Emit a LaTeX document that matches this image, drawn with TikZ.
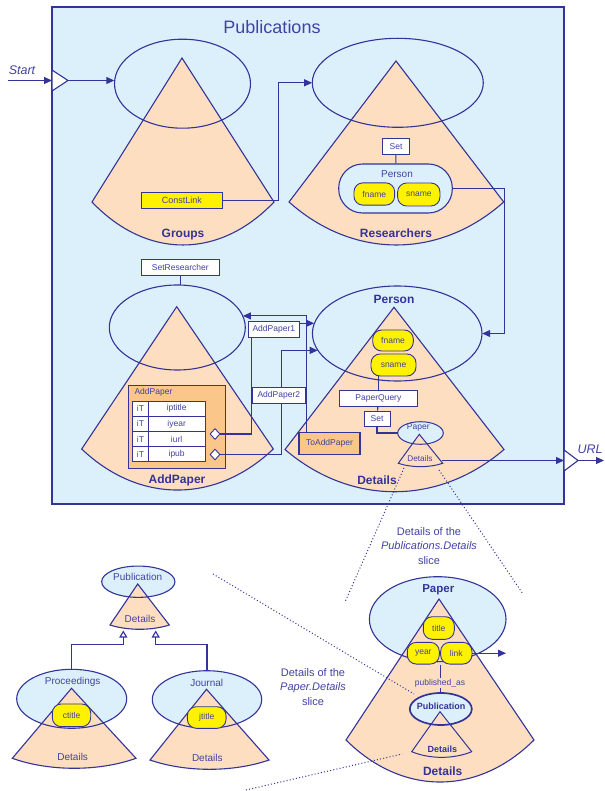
\documentclass[tikz,border=0pt]{standalone}
\usepackage{fontspec}
\setmainfont{Liberation Sans}
\usepackage{tikz}
\usetikzlibrary{positioning, arrows.meta, shapes.geometric}
\usepackage{xcolor}
\definecolor{navy}{RGB}{51,51,153}
\definecolor{ink}{RGB}{66,66,162}
\definecolor{sky}{RGB}{220,240,252}
\definecolor{peach}{RGB}{253,222,192}
\definecolor{attrib}{RGB}{255,242,0}
\definecolor{unit}{RGB}{250,198,138}

\begin{document}
\begin{tikzpicture}[x=1pt, y=-1pt,
    line/.style={draw=navy, line width=1.1pt},
    arr/.style={line, -{Triangle[length=8pt, width=7pt]}},
    isa/.style={line, -{Triangle[open, fill=white, length=7pt, width=8pt]}},
    cone/.style={line, fill=peach},
    ellfill/.style={ellipse, fill=sky, inner sep=0pt},
    ellline/.style={ellipse, line, inner sep=0pt},
    small/.style={text=ink, font=\fontsize{8.5}{10}\selectfont},
    txt/.style={text=ink, font=\fontsize{10}{12}\selectfont},
    big/.style={text=navy, font=\bfseries\fontsize{12}{14}\selectfont},
    slant/.style={text=ink, font=\itshape\fontsize{12.5}{14}\selectfont},
    note/.style={text=ink, align=center, font=\fontsize{11}{14.5}\selectfont},
    tag/.style={small, draw=navy, line width=0.9pt, fill=white, inner sep=0pt},
    attr/.style={small, draw=navy, line width=0.9pt, fill=attrib, rounded corners=9pt, inner sep=0pt},
    cell/.style={small, draw=navy, line width=0.9pt, fill=white, inner sep=0pt, outer sep=0pt, minimum height=15.2},
    zoomline/.style={draw=navy, line width=1pt, dash pattern=on 1pt off 2.2pt}]

    \useasboundingbox (0,0) rectangle (604,791);

    % Publications frame
    \draw[line, fill=sky] (52,7) rectangle (564,504);
    \node[text=ink, font=\fontsize{18}{20}\selectfont] (title) at (272,27) {Publications};

    % Start port
    \coordinate (startfrom) at (8,80.5);
    \coordinate (startin) at (52,80.5);
    \coordinate (starttip) at (68,80.5);
    \draw[line, fill=white] (52,70) -- (starttip) -- (52,91) -- cycle;
    \node[slant] (start) at (22,70) {Start};
    \draw[arr] (startfrom) -- (startin);

    % Groups slice
    \node[ellfill, minimum width=136, minimum height=89] (groups) at (182.5,83.7) {};
    \draw[cone] (182,58) -- (92,202) .. controls (146.6,259.3) and (219.4,259.3) .. (274,202) -- cycle;
    \node[ellline, minimum width=136, minimum height=89] (groupsrim) at (groups) {};
    \node[big] (groupslab) at (183,235) {Groups};
    \node[small, draw=navy, line width=0.9pt, fill=attrib, inner sep=0pt,
          minimum width=81.7, minimum height=16.7, font=\fontsize{9}{10}\selectfont] (constlink) at (181.8,200.4) {ConstLink};
    \draw[arr] (starttip) -- (groups.west |- starttip);

    % Researchers slice
    \node[ellfill, minimum width=171, minimum height=89] (researchers) at (397.8,82.8) {};
    \draw[cone] (396,61) -- (289,202) .. controls (353.4,259.3) and (439.3,259.3) .. (503.7,202) -- cycle;
    \node[ellline, minimum width=171, minimum height=89] (researchersrim) at (researchers) {};
    \node[big] (researcherslab) at (396,233) {Researchers};
    \node[tag, minimum width=26.3, minimum height=15.6] (set) at (396,146.5) {Set};
    \node[line, fill=sky, rounded corners=24pt, minimum width=113.6, minimum height=49] (personset) at (395.5,188.5) {};
    \node[txt] (personlab) at (397,174) {Person};
    \node[attr, minimum width=40.7, minimum height=22.3] (fname) at (374.3,194) {fname};
    \node[attr, minimum width=42.3, minimum height=23] (sname) at (418.8,194.5) {sname};
    \draw[line] (set) -- (personset);
    \draw[arr] (constlink.east) -- ++(55.6,0) |- (researchers.west);

    % AddPaper slice
    \node[tag, minimum width=78.7, minimum height=16.4] (setresearcher) at (180.3,267.5) {SetResearcher};
    \node[ellfill, minimum width=136, minimum height=85] (addpaper) at (177.3,327.5) {};
    \draw[cone] (176.7,306.7) -- (81.7,449) .. controls (139.2,503.7) and (215.8,503.7) .. (273.3,449) -- cycle;
    \node[ellline, minimum width=136, minimum height=85] (addpaperrim) at (addpaper) {};
    \draw[line] (setresearcher.south) -- (setresearcher.south |- addpaper.north);
    \node[big] (addpaperlab) at (177,480) {AddPaper};

    % operation unit with its parameters
    \node[draw=navy, line width=1.1pt, fill=unit, inner sep=0pt, anchor=north west,
          minimum width=97.5, minimum height=83.3] (unitbox) at (127.5,385) {};
    \node[small, anchor=west] (unitlab) at (131,392.7) {AddPaper};
    \node[cell, minimum width=15.6] (it1) at (140.5,408.6) {iT};
    \node[cell, minimum width=56.7, right=0pt of it1] (iptitle) {iptitle};
    \node[cell, minimum width=15.6, below=0pt of it1] (it2) {iT};
    \node[cell, minimum width=56.7, right=0pt of it2] (iyear) {iyear};
    \node[cell, minimum width=15.6, below=0pt of it2] (it3) {iT};
    \node[cell, minimum width=56.7, right=0pt of it3] (iurl) {iurl};
    \node[cell, minimum width=15.6, below=0pt of it3] (it4) {iT};
    \node[cell, minimum width=56.7, right=0pt of it4] (ipub) {ipub};
    \node[diamond, draw=navy, line width=0.9pt, fill=white, inner sep=0pt,
          minimum width=10, minimum height=11] (dia1) at (215,434) {};
    \node[diamond, draw=navy, line width=0.9pt, fill=white, inner sep=0pt,
          minimum width=10, minimum height=11] (dia2) at (215,454.5) {};

    % Details slice of Person
    \node[ellfill, minimum width=169.6, minimum height=95] (details) at (397.2,333.5) {};
    \draw[cone] (394,307.3) -- (285,449.5) .. controls (350.7,505.8) and (438.3,505.8) .. (504,449.5) -- cycle;
    \node[ellline, minimum width=169.6, minimum height=95] (detailsrim) at (details) {};
    \node[big] (detailsperson) at (394,299) {Person};
    \node[big] (detailslab) at (377,480) {Details};
    \node[attr, minimum width=40.6, minimum height=21] (fname2) at (393,340.5) {fname};
    \node[attr, minimum width=45, minimum height=22] (sname2) at (393.5,365) {sname};
    \node[tag, minimum width=78.7, minimum height=15.3] (paperquery) at (378.4,398.4) {PaperQuery};
    \node[tag, minimum width=26, minimum height=15] (set2) at (377,418.5) {Set};
    \draw[line] (paperquery.north) -- (paperquery.north |- sname2.south);
    \draw[line] (paperquery) -- (set2);

    % nested Paper slice
    \node[ellfill, minimum width=45.6, minimum height=22.6] (spaper) at (420.5,433) {};
    \draw[cone, line width=1pt] (419.3,434.3) -- (398.3,463.3) .. controls (411.6,467.8) and (429.4,467.8) .. (442.7,463.3) -- cycle;
    \node[ellline, line width=1pt, minimum width=45.6, minimum height=22.6] (spaperrim) at (spaper) {};
    \node[small] (spaperlab) at (418.3,427.7) {Paper};
    \node[small, font=\fontsize{8.2}{10}\selectfont] (sdetailslab) at (420,458.5) {Details};
    \draw[line] (set2.south) |- (spaper.west);
    \node[small, draw=navy, line width=1.1pt, fill=unit, inner sep=0pt,
          minimum width=61, minimum height=21.3] (toaddpaper) at (329.5,443.4) {ToAddPaper};

    % links between AddPaper and Details
    \draw[arr] ([xshift=7.7pt]toaddpaper.north west) |- (addpaper.10);
    \draw[arr] (dia1.east) -- ++(30.7,0) |- (details.173);
    \draw[arr] (dia2.east) -- ++(60.7,0) |- (details.192.5);
    \node[tag, minimum width=51, minimum height=16] (addpaper1) at (273.8,329.7) {AddPaper1};
    \node[tag, minimum width=52.3, minimum height=16] (addpaper2) at (278.8,395.3) {AddPaper2};
    \draw[arr] (personset.east) -- ++(51.4,0) |- (details.east);

    % URL port
    \coordinate (sdcorner) at (441.5,460.5);
    \coordinate (urlin) at (564,460.5);
    \coordinate (urltip) at (578,460.5);
    \coordinate (urlout) at (604,460.5);
    \draw[arr] (sdcorner) -- (urlin);
    \draw[line, fill=white] (564,450) -- (urltip) -- (564,471) -- cycle;
    \draw[arr] (urltip) -- (urlout);
    \node[slant] (url) at (590,449) {URL};

    % Paper slice in detail
    \node[ellfill, minimum width=136.6, minimum height=85] (paper) at (437.7,619.2) {};
    \draw[cone] (439,599) -- (346,740) .. controls (402.4,796) and (477.6,796) .. (534,740) -- cycle;
    \node[ellline, minimum width=136.6, minimum height=85] (paperrim) at (paper) {};
    \node[big, font=\bfseries\fontsize{11.5}{13}\selectfont] (paperlab) at (438.3,589.3) {Paper};
    \node[attr, minimum width=31, minimum height=22.6] (ptitle) at (438.8,628) {title};
    \node[attr, minimum width=32, minimum height=21.7] (year) at (423.3,653.2) {year};
    \node[attr, minimum width=31.3, minimum height=21.7] (link) at (456.3,653.2) {link};
    \coordinate (linkout) at (506,653.2);
    \draw[arr] (link.east) -- (linkout);
    \node[big] (paperdetails) at (442.7,771.7) {Details};

    \node[ellfill, minimum width=62, minimum height=32] (pubslice) at (440.8,709) {};
    \draw[cone, line width=1pt] (440,711.7) -- (411.7,751.7) .. controls (429.7,759.2) and (453.7,759.2) .. (471.7,751.7) -- cycle;
    \node[ellline, line width=1.7pt, minimum width=62, minimum height=32] (pubslicerim) at (pubslice) {};
    \node[big, font=\bfseries\fontsize{9}{10}\selectfont] (pubslicelab) at (441,706) {Publication};
    \node[big, font=\bfseries\fontsize{9}{10}\selectfont] (pubslicedet) at (442.3,749.5) {Details};
    \draw[line, line width=1pt] (pubslice.north) -- (pubslice.north |- year.south);
    \node[small, fill=peach, inner sep=1pt] (pubas) at (440,683.3) {published\_as};

    % Publication hierarchy
    \node[ellfill, minimum width=73.3, minimum height=31.3] (pub) at (138.3,581.7) {};
    \draw[cone] (137.7,584) -- (110,625) .. controls (127.8,630.7) and (151.5,630.7) .. (169.3,625) -- cycle;
    \node[ellline, minimum width=73.3, minimum height=31.3] (pubrim) at (pub) {};
    \node[txt] (publab) at (137.7,577.3) {Publication};
    \node[txt] (pubdet) at (140,619) {Details};

    \node[ellfill, minimum width=110, minimum height=59] (proc) at (71.7,698.8) {};
    \draw[cone] (71.5,688.3) -- (12.3,758.3) .. controls (49.4,771.6) and (98.9,771.6) .. (136,758.3) -- cycle;
    \node[ellline, minimum width=110, minimum height=59] (procrim) at (proc) {};
    \node[txt] (proclab) at (72.7,681.7) {Proceedings};
    \node[attr, minimum width=38.4, minimum height=22.7] (ctitle) at (71.5,715.3) {ctitle};
    \node[txt] (procdet) at (72.7,756.5) {Details};

    \node[ellfill, minimum width=109.4, minimum height=57.6] (journal) at (207,699.5) {};
    \draw[cone] (206.5,689.3) -- (150,760) .. controls (185.7,772.4) and (233.3,772.4) .. (269,760) -- cycle;
    \node[ellline, minimum width=109.4, minimum height=57.6] (journalrim) at (journal) {};
    \node[txt] (journallab) at (206.7,683.3) {Journal};
    \node[attr, minimum width=38.7, minimum height=21.6] (jtitle) at (206.7,717.5) {jtitle};
    \node[txt] (journaldet) at (207.3,757.5) {Details};

    \coordinate (isa1) at (123.3,630.5);
    \coordinate (isa2) at (155.7,630.5);
    \draw[isa] (proc.north) -- ++(0,-25) -| (isa1);
    \draw[isa] (journal.north) -- ++(0,-26.4) -| (isa2);

    % zoom notes
    \node[note] (note1) at (429,546) {Details of the\\\textit{Publications.Details}\\slice};
    \node[note] (note2) at (313,687) {Details of the\\\textit{Paper.Details}\\slice};
    \draw[zoomline] (404,468) -- (345,602);
    \draw[zoomline] (439,470) -- (523,594);
    \draw[zoomline] (213,574) -- (414,694);
    \draw[zoomline] (246,790) -- (402,754);
\end{tikzpicture}
\end{document}
